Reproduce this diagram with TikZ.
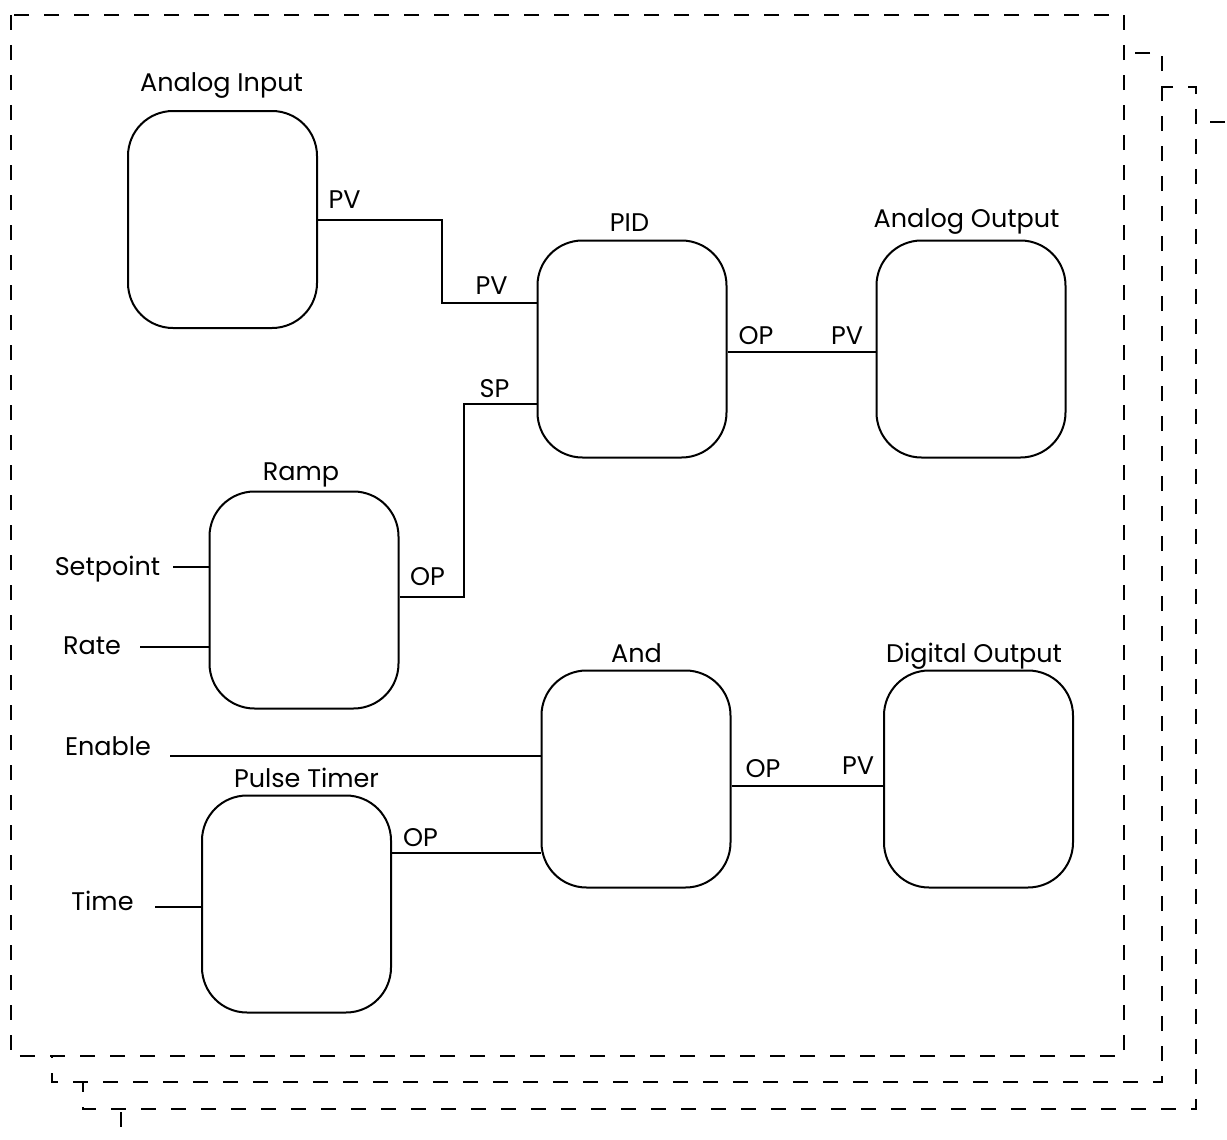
\documentclass[tikz,border=0pt]{standalone}
\usepackage{fontspec}
\setmainfont{Poppins}
\begin{document}
\begin{tikzpicture}[x=1pt,y=-1pt,
  sheet/.style={draw, fill=white, line width=2.4pt, dash pattern=on 15pt off 15pt},
  block/.style={draw, rectangle, rounded corners=45pt, line width=2pt,
    minimum width=189pt, minimum height=217pt, inner sep=0pt},
  wire/.style={line width=1.9pt},
  lbl/.style={inner sep=0pt, anchor=base, font=\fontsize{25.5}{28}\selectfont}]

% page frame
\clip (0,0) rectangle (1227,1140);
\fill[white] (0,0) rectangle (1227,1140);

% stacked sheets, back to front
\draw[sheet] (121,122) rectangle (1300,1220);
\draw[sheet] (83,87) rectangle (1196,1109);
\draw[sheet] (52,53) rectangle (1162,1082);
\draw[sheet] (11,15) rectangle (1124,1056);

% function blocks
\node[block] (ai)   at (222.5,219.5) {};
\node[block] (pid)  at (632,349) {};
\node[block] (ao)   at (971,349) {};
\node[block] (ramp) at (304,600) {};
\node[block] (andb) at (636,779) {};
\node[block] (dout) at (978.5,779) {};
\node[block] (pt)   at (296.5,904) {};

% block titles
\node[lbl] (tai)   at (221.5,92)  {Analog Input};
\node[lbl] (tpid)  at (629.5,231) {PID};
\node[lbl] (tao)   at (966.5,227) {Analog Output};
\node[lbl] (tramp) at (301,480)   {Ramp};
\node[lbl] (tand)  at (636.5,662) {And};
\node[lbl] (tdo)   at (974,662)   {Digital Output};
\node[lbl] (tpt)   at (306.5,787) {Pulse Timer};

% free inputs
\node[lbl] (lsp)   at (107.5,575) {Setpoint};
\node[lbl] (lrate) at (92,654)    {Rate};
\node[lbl] (len)   at (108,755)   {Enable};
\node[lbl] (ltime) at (102.5,910) {Time};

\coordinate (csp)   at (173,567);
\coordinate (crate) at (140,647);
\coordinate (cen)   at (170,756);
\coordinate (ctime) at (155,907);

\draw[wire] (csp) -- (ramp.west |- csp);
\draw[wire] (crate) -- (ramp.west |- crate);
\draw[wire] (cen) -- (andb.west |- cen);
\draw[wire] (ctime) -- (pt.west |- ctime);

% pin labels
\node[lbl] (pai)  at (344.5,208) {PV};
\node[lbl] (ppv)  at (491.5,294) {PV};
\node[lbl] (psp)  at (494.5,397) {SP};
\node[lbl] (pop1) at (756,344)   {OP};
\node[lbl] (pao)  at (847,344)   {PV};
\node[lbl] (prop) at (427.5,585) {OP};
\node[lbl] (ptop) at (420.5,846) {OP};
\node[lbl] (pop2) at (763,777)   {OP};
\node[lbl] (pdo)  at (858,774)   {PV};

% links between blocks
\draw[wire] (ai.east |- 0,220) -- (442,220) -- (442,303) -- (pid.west |- 0,303);
\draw[wire] (ramp.east |- 0,597) -- (464,597) -- (464,404) -- (pid.west |- 0,404);
\draw[wire] (pid.east |- 0,352) -- (ao.west |- 0,352);
\draw[wire] (pt.east |- 0,853) -- (andb.west |- 0,853);
\draw[wire] (andb.east |- 0,786) -- (dout.west |- 0,786);
\end{tikzpicture}
\end{document}
